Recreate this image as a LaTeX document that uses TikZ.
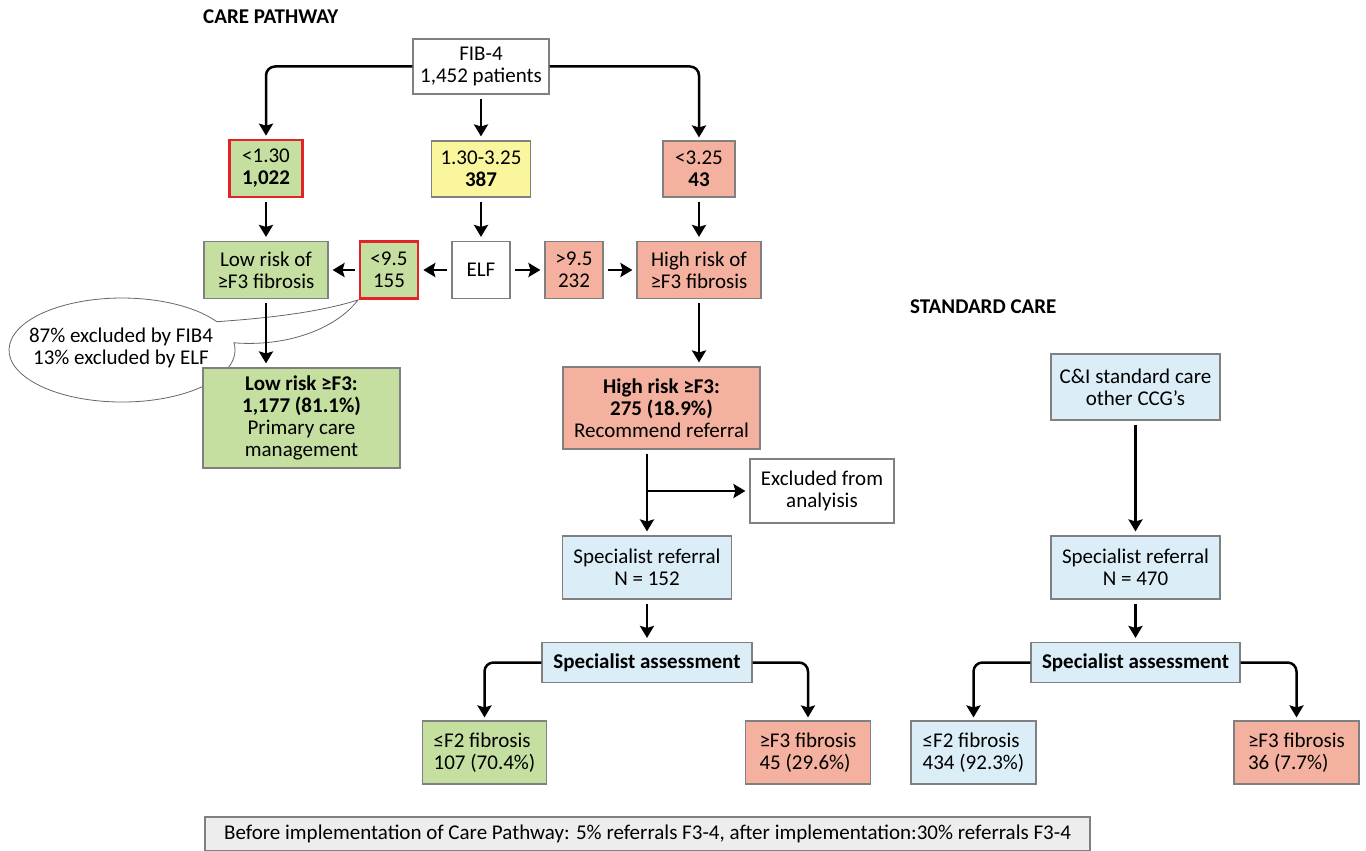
\documentclass[tikz,border=0pt]{standalone}
\usepackage{fontspec}
\setmainfont{Carlito}
\usetikzlibrary{shapes, arrows.meta, positioning, calc}

\definecolor{lowgreen}{HTML}{C4DFA0}
\definecolor{midyellow}{HTML}{FAF69E}
\definecolor{highred}{HTML}{F4B19F}
\definecolor{refblue}{HTML}{DBEEF7}
\definecolor{notegray}{HTML}{EDEDED}
\definecolor{boxgray}{HTML}{808080}
\definecolor{flagred}{HTML}{E2232A}

\begin{document}
\begin{tikzpicture}
  [
  x = 1pt, y = -1pt,
  font = \fontsize{21}{22}\selectfont,
  % block
  block/.style = {rectangle,
    draw = boxgray, line width = 1.1pt,
    align = center, inner sep = 0pt},
  dims/.style 2 args = {minimum width = #1pt, minimum height = #2pt},
  % fills
  lowbox/.style = {block, fill = lowgreen},
  midbox/.style = {block, fill = midyellow},
  highbox/.style = {block, fill = highred},
  refbox/.style = {block, fill = refblue},
  % red frame
  flagged/.style = {draw = flagred, line width = 2.6pt},
  % heading
  heading/.style = {font = \fontsize{21}{22}\selectfont\bfseries,
    anchor = base west, inner sep = 0pt},
  % bubble
  bubble/.style = {draw = black!60, fill = white, line width = 0.8pt},
  % line
  line/.style = {draw, line width = 2.5pt,
    -{Stealth[length = 12pt, width = 14pt, inset = 2pt]}},
  gap/.style = {shorten <= 4pt, shorten >= 4pt},
  elbow/.style = {rounded corners = 9pt, shorten >= 3pt},
  ]

  \useasboundingbox (0,0) rectangle (1366,851);

  % bubble
  \path [bubble] (216.8,321.7)
    arc [start angle = -33, end angle = -368, x radius = 113, y radius = 52]
    .. controls (285,347) and (335,330) .. (358,300)
    .. controls (320,312) and (270,318) .. (216.8,321.7) -- cycle;
  \node [align = center] (share) at (121,348) {87\% excluded by FIB4\\13\% excluded by ELF};

  % headings
  \node [heading] (cptitle) at (203,24) {CARE PATHWAY};
  \node [heading] (sctitle) at (910,313) {STANDARD CARE};

  % nodes, care pathway
  \node [block, dims = {136}{55}] (fib) at (481,66.5) {FIB-4\\1,452 patients};
  \node [lowbox, flagged, dims = {73}{57}] (lowcut) at (266,168.5) {<1.30\\\textbf{1,022}};
  \node [midbox, dims = {99}{56}] (midcut) at (481,169) {1.30-3.25\\\textbf{387}};
  \node [highbox, dims = {72}{56}] (highcut) at (699,169) {<3.25\\\textbf{43}};

  \node [lowbox, dims = {124}{57}] (lowrisk) at (266,270) {Low risk of\\≥F3 fibrosis};
  \node [lowbox, flagged, dims = {58}{57}] (lowelf) at (389,270) {<9.5\\155};
  \node [block, dims = {58}{57}] (elf) at (481,270) {ELF};
  \node [highbox, dims = {58}{57}] (highelf) at (574,270) {>9.5\\232};
  \node [highbox, dims = {124}{57}] (highrisk) at (699,270) {High risk of\\≥F3 fibrosis};

  \node [lowbox, dims = {197}{100}] (lowF3) at (301.5,418)
    {\textbf{Low risk ≥F3:}\\\textbf{1,177 (81.1\%)}\\Primary care\\management};
  \node [highbox, dims = {197}{82}] (highF3) at (661.5,408)
    {\textbf{High risk ≥F3:}\\\textbf{275 (18.9\%)}\\Recommend referral};
  \node [block, dims = {144}{64}] (excluded) at (822,491) {Excluded from\\analyisis};

  \node [refbox, dims = {169}{63}] (specref) at (647,567.5) {Specialist referral\\N = 152};
  \node [refbox, dims = {210}{40}] (specassess) at (647,662.5) {\textbf{Specialist assessment}};
  \node [lowbox, align = left, dims = {124}{63}] (lowfib) at (484.5,752.5) {≤F2 fibrosis\\107 (70.4\%)};
  \node [highbox, align = left, dims = {125}{63}] (highfib) at (808,752.5) {≥F3 fibrosis\\45 (29.6\%)};

  % nodes, standard care
  \node [refbox, dims = {169}{66}] (stdcare) at (1135.5,387) {C\&I standard care\\other CCG’s};
  \node [refbox, dims = {169}{63}] (stdref) at (1135.5,567.5) {Specialist referral\\N = 470};
  \node [refbox, dims = {209}{40}] (stdassess) at (1135.5,662.5) {\textbf{Specialist assessment}};
  \node [refbox, align = left, dims = {125}{63}] (stdlow) at (973.5,752.5) {≤F2 fibrosis\\434 (92.3\%)};
  \node [highbox, align = left, dims = {125}{63}] (stdhigh) at (1296.5,752.5) {≥F3 fibrosis\\36 (7.7\%)};

  % note
  \node [block, fill = notegray, dims = {885}{34}] (note) at (647.5,834)
    {Before implementation of Care Pathway: 5\% referrals F3-4, after implementation:30\% referrals F3-4};

  % path
  \path [line, elbow] (fib.west) -| (lowcut.north);
  \path [line, elbow] (fib.east) -| (highcut.north);
  \path [line, gap] (fib) -- (midcut);
  \path [line, gap] (lowcut) -- (lowrisk);
  \path [line, gap] (midcut) -- (elf);
  \path [line, gap] (highcut) -- (highrisk);
  \path [line, gap] (elf) -- (lowelf);
  \path [line, gap] (lowelf) -- (lowrisk);
  \path [line, gap] (elf) -- (highelf);
  \path [line, gap] (highelf) -- (highrisk);
  \path [line, gap] (lowrisk.south) -- (lowrisk.south |- lowF3.north);
  \path [line, gap] (highrisk.south) -- (highrisk.south |- highF3.north);
  \path [line, gap] (specref.north |- highF3.south) -- (specref.north);
  \coordinate (split) at (specref.north |- excluded.west);
  \path [line, shorten >= 4pt] (split) -- (excluded.west);
  \path [line, gap] (specref) -- (specassess);
  \path [line, elbow] (specassess.west) -| (lowfib.north);
  \path [line, elbow] (specassess.east) -| (highfib.north);

  \path [line, gap] (stdcare) -- (stdref);
  \path [line, gap] (stdref) -- (stdassess);
  \path [line, elbow] (stdassess.west) -| (stdlow.north);
  \path [line, elbow] (stdassess.east) -| (stdhigh.north);

\end{tikzpicture}
\end{document}
